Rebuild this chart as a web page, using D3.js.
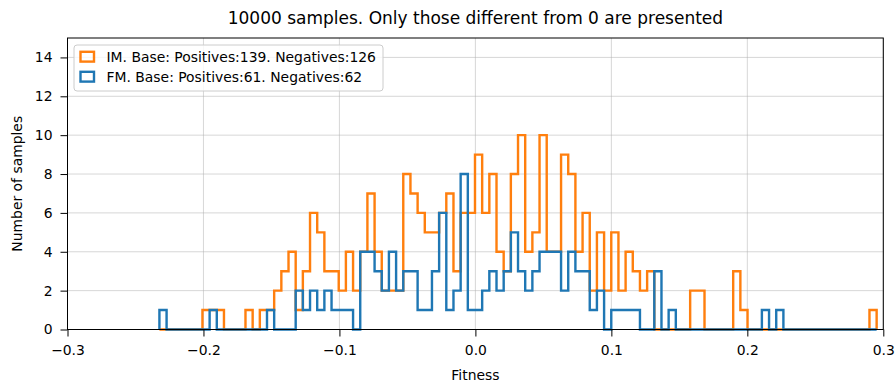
<!DOCTYPE html>
<html>
<head>
<meta charset="utf-8">
<script src="https://cdn.jsdelivr.net/npm/d3@7"></script>
<style>
  body { margin: 0; background: #fff; }
  text { font-family: "DejaVu Sans", sans-serif; }
</style>
</head>
<body>
<div id="chart"></div>
<script>
// histogram bins shared by both series (100 bins)
const binStart = -0.2324;
const binWidth = 0.005275;

// counts per bin, IM (orange)
const imCounts = [
  0, 0, 0, 0, 0, 0, 1, 1, 1, 0,
  0, 0, 1, 0, 1, 1, 2, 3, 4, 1,
  3, 6, 5, 3, 3, 2, 4, 2, 4, 7,
  4, 2, 2, 2, 8, 7, 6, 5, 5, 6,
  7, 3, 6, 6, 9, 6, 8, 4, 3, 8,
  10, 4, 5, 10, 4, 4, 9, 8, 4, 6,
  2, 5, 2, 5, 2, 4, 3, 2, 3, 0,
  0, 0, 0, 0, 2, 2, 0, 0, 0, 0,
  3, 1, 0, 0, 0, 0, 0, 0, 0, 0,
  0, 0, 0, 0, 0, 0, 0, 0, 0, 1
];

// counts per bin, FM (blue)
const fmCounts = [
  1, 0, 0, 0, 0, 0, 0, 1, 0, 0,
  0, 0, 0, 0, 0, 1, 0, 0, 0, 2,
  1, 2, 1, 2, 1, 1, 1, 0, 4, 4,
  3, 2, 4, 2, 3, 3, 1, 1, 3, 6,
  1, 2, 8, 1, 1, 2, 3, 2, 3, 5,
  3, 2, 3, 4, 4, 4, 2, 4, 3, 3,
  1, 2, 0, 1, 1, 1, 1, 0, 0, 3,
  0, 1, 0, 0, 0, 0, 0, 0, 0, 0,
  0, 0, 0, 0, 1, 0, 1, 0, 0, 0,
  0, 0, 0, 0, 0, 0, 0, 0, 0, 0
];

const xTicks = [-0.3, -0.2, -0.1, 0.0, 0.1, 0.2, 0.3];
const yTicks = [0, 2, 4, 6, 8, 10, 12, 14];
const seriesNames = ["IM. Base: Positives:139. Negatives:126", "FM. Base: Positives:61. Negatives:62"];
const seriesColors = ["#ff7f0e", "#1f77b4"];

const margin = { top: 38, right: 12.7, bottom: 53.5, left: 67.5 },
    width = 896 - margin.left - margin.right,
    height = 383 - margin.top - margin.bottom;

const svg = d3.select("#chart")
    .append("svg")
    .attr("width", 896)
    .attr("height", 383);

const g = svg.append("g")
    .attr("transform", `translate(${margin.left}, ${margin.top})`);

const x = d3.scaleLinear().domain([-0.3, 0.3]).range([0, width]);
const y = d3.scaleLinear().domain([0, 15]).range([height, 0]);

// grid
g.append("g").selectAll("line")
    .data(xTicks)
    .join("line")
    .attr("x1", d => x(d)).attr("x2", d => x(d))
    .attr("y1", 0).attr("y2", height)
    .style("stroke", "#b0b0b0").style("stroke-opacity", 0.5).style("stroke-width", 1);
g.append("g").selectAll("line")
    .data(yTicks)
    .join("line")
    .attr("x1", 0).attr("x2", width)
    .attr("y1", d => y(d)).attr("y2", d => y(d))
    .style("stroke", "#b0b0b0").style("stroke-opacity", 0.5).style("stroke-width", 1);

// step outline of a histogram
function stepPoints(counts) {
    const pts = [[binStart, 0]];
    counts.forEach((c, i) => pts.push([binStart + i * binWidth, c]));
    pts.push([binStart + counts.length * binWidth, counts[counts.length - 1]]);
    pts.push([binStart + counts.length * binWidth, 0]);
    return pts;
}
const line = d3.line()
    .x(d => x(d[0]))
    .y(d => y(d[1]))
    .curve(d3.curveStepAfter);

[imCounts, fmCounts].forEach((counts, i) => {
    g.append("path")
        .datum(stepPoints(counts))
        .attr("d", line)
        .style("fill", "none")
        .style("stroke", seriesColors[i])
        .style("stroke-width", 2.4)
        .style("stroke-linejoin", "miter");
});

// axes
const xAxis = g.append("g")
    .attr("transform", `translate(0, ${height})`)
    .call(d3.axisBottom(x).tickValues(xTicks).tickFormat(d3.format(".1f")).tickSize(7).tickPadding(9));
xAxis.select(".domain").remove();
const yAxis = g.append("g")
    .call(d3.axisLeft(y).tickValues(yTicks).tickSize(7).tickPadding(8));
yAxis.select(".domain").remove();
g.selectAll(".tick text").style("font-size", "13.9px").style("fill", "#000").style("font-family", "DejaVu Sans");
g.selectAll(".tick line").style("stroke", "#000").style("stroke-width", 1);

// frame
g.append("rect")
    .attr("width", width).attr("height", height)
    .style("fill", "none").style("stroke", "#000").style("stroke-width", 1);

// labels
svg.append("text")
    .attr("x", margin.left + width / 2).attr("y", 24)
    .attr("text-anchor", "middle")
    .style("font-size", "17px")
    .text("10000 samples. Only those different from 0 are presented");
svg.append("text")
    .attr("x", margin.left + width / 2).attr("y", 380)
    .attr("text-anchor", "middle")
    .style("font-size", "13.9px")
    .text("Fitness");
svg.append("text")
    .attr("transform", `translate(22, ${margin.top + height / 2}) rotate(-90)`)
    .attr("text-anchor", "middle")
    .style("font-size", "13.9px")
    .text("Number of samples");

// legend
const legend = svg.append("g");
legend.append("rect")
    .attr("x", 74).attr("y", 45).attr("width", 309).attr("height", 46).attr("rx", 3)
    .style("fill", "#fff").style("fill-opacity", 0.8)
    .style("stroke", "#cccccc").style("stroke-width", 1);
seriesNames.forEach((name, i) => {
    legend.append("rect")
        .attr("x", 80.5).attr("y", 51.8 + i * 20).attr("width", 13.5).attr("height", 9.8)
        .style("fill", "none").style("stroke", seriesColors[i]).style("stroke-width", 2.4);
    legend.append("text")
        .attr("x", 106.5).attr("y", 61.8 + i * 20)
        .style("font-size", "13.9px")
        .text(name);
});
</script>
</body>
</html>
